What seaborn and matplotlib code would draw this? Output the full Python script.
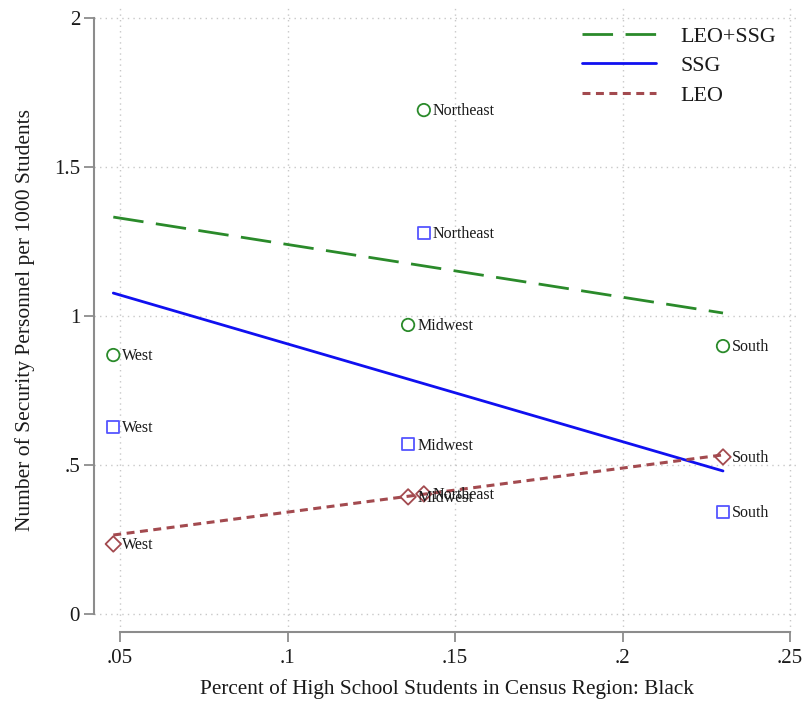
import matplotlib
matplotlib.use("Agg")
import matplotlib.pyplot as plt
from matplotlib.lines import Line2D
import seaborn as sns
import pandas as pd

# Regional averages: share of Black high school students vs. security staff per 1000 students
regions = ["West", "Midwest", "Northeast", "South"]
pct_black = [0.048, 0.136, 0.1407, 0.230]
leo_ssg = [0.869, 0.970, 1.691, 0.899]
ssg = [0.628, 0.570, 1.279, 0.342]
leo = [0.235, 0.393, 0.403, 0.527]

# Fitted lines (endpoints over the observed range of x)
fit_x = [0.048, 0.230]
fit_leo_ssg = [1.332, 1.010]
fit_ssg = [1.077, 0.480]
fit_leo = [0.265, 0.534]

xticks = [0.05, 0.10, 0.15, 0.20, 0.25]
xtick_labels = [".05", ".1", ".15", ".2", ".25"]
yticks = [0, 0.5, 1, 1.5, 2]
ytick_labels = ["0", ".5", "1", "1.5", "2"]

GREEN = "#2a8a2a"
BLUE_LINE = "#1010f0"
BLUE_MARK = "#5555ff"
RED = "#a34a4f"
TEXT = "#1a1a1a"
GRID = "#c8c8c8"
AXIS = "#8c8c8c"

sns.set_theme(style="white")
plt.rcParams["font.family"] = ["Liberation Serif", "DejaVu Serif"]

df = pd.DataFrame({"region": regions, "x": pct_black,
                   "leo_ssg": leo_ssg, "ssg": ssg, "leo": leo})
fits = pd.DataFrame({"x": fit_x, "leo_ssg": fit_leo_ssg,
                     "ssg": fit_ssg, "leo": fit_leo})

W, H = 805, 704
fig = plt.figure(figsize=(W / 100, H / 100), dpi=100)
ax = fig.add_axes([94 / W, (H - 632) / H, (800 - 94) / W, (632 - 8) / H])

# data -> pixel scale: .05 per 167.5 px on x, .5 per 149 px on y
xpx = 0.05 / 167.5
ypx = 0.5 / 149
ax.set_xlim(0.05 - 26 * xpx, 0.25 + 10 * xpx)
ax.set_ylim(0 - 18 * ypx, 2 + 10 * ypx)

# dotted reference grid
for xv in xticks:
    ax.axvline(xv, color=GRID, lw=1.0, ls=(0, (1, 3)), zorder=0)
for yv in yticks:
    ax.axhline(yv, color=GRID, lw=1.0, ls=(0, (1, 3)), zorder=0)

# fitted lines
sns.lineplot(data=fits, x="x", y="leo_ssg", ax=ax, color=GREEN, lw=2.0,
             zorder=3).lines[-1].set_dashes((11, 4.5))
sns.lineplot(data=fits, x="x", y="ssg", ax=ax, color=BLUE_LINE, lw=2.0, zorder=3)
sns.lineplot(data=fits, x="x", y="leo", ax=ax, color=RED, lw=2.2,
             zorder=3).lines[-1].set_dashes((2.6, 1.8))

# hollow markers per region
sns.scatterplot(data=df, x="x", y="leo_ssg", ax=ax, marker="o", s=80,
                facecolors="none", edgecolor=GREEN, linewidth=1.3, zorder=4)
sns.scatterplot(data=df, x="x", y="ssg", ax=ax, marker="s", s=70,
                facecolors="none", edgecolor=BLUE_MARK, linewidth=1.3, zorder=4)
sns.scatterplot(data=df, x="x", y="leo", ax=ax, marker="D", s=62,
                facecolors="none", edgecolor=RED, linewidth=1.3, zorder=4)

for col in ["leo_ssg", "ssg", "leo"]:
    for r, xv, yv in zip(df["region"], df["x"], df[col]):
        ax.annotate(r, (xv, yv), xytext=(6.5, -1), textcoords="offset points",
                    ha="left", va="center", fontsize=11.5, color=TEXT, zorder=5)

# axes styling
for s in ["top", "right"]:
    ax.spines[s].set_visible(False)
ax.spines["left"].set_position(("data", 0.05 - 26 * xpx))
ax.spines["left"].set_bounds(0, 2)
ax.spines["bottom"].set_position(("data", 0 - 18 * ypx))
ax.spines["bottom"].set_bounds(0.05, 0.25)
for s in ["left", "bottom"]:
    ax.spines[s].set_color(AXIS)
    ax.spines[s].set_linewidth(1.5)

ax.set_xticks(xticks)
ax.set_xticklabels(xtick_labels)
ax.set_yticks(yticks)
ax.set_yticklabels(ytick_labels)
ax.tick_params(axis="both", which="major", direction="out", length=7, width=1.3,
               color=AXIS, labelsize=15, labelcolor=TEXT, pad=5,
               bottom=True, left=True)
ax.tick_params(axis="y", pad=3)

ax.set_xlabel("Percent of High School Students in Census Region: Black",
              fontsize=15.3, color=TEXT, labelpad=8)
ax.set_ylabel("Number of Security Personnel per 1000 Students",
              fontsize=15.5, color=TEXT, labelpad=14)

handles = [
    Line2D([], [], color=GREEN, lw=2.0, dashes=(11, 4.5)),
    Line2D([], [], color=BLUE_LINE, lw=2.0),
    Line2D([], [], color=RED, lw=2.2, dashes=(2.6, 1.8)),
]
leg = ax.legend(handles, ["LEO+SSG", "SSG", "LEO"], loc="upper right",
                bbox_to_anchor=(0.985, 0.992), frameon=False, fontsize=15.8,
                handlelength=3.4, handletextpad=1.1, labelspacing=0.42,
                borderaxespad=0.2)
for t in leg.get_texts():
    t.set_color(TEXT)

fig.savefig("out.png", dpi=100, facecolor="white")
